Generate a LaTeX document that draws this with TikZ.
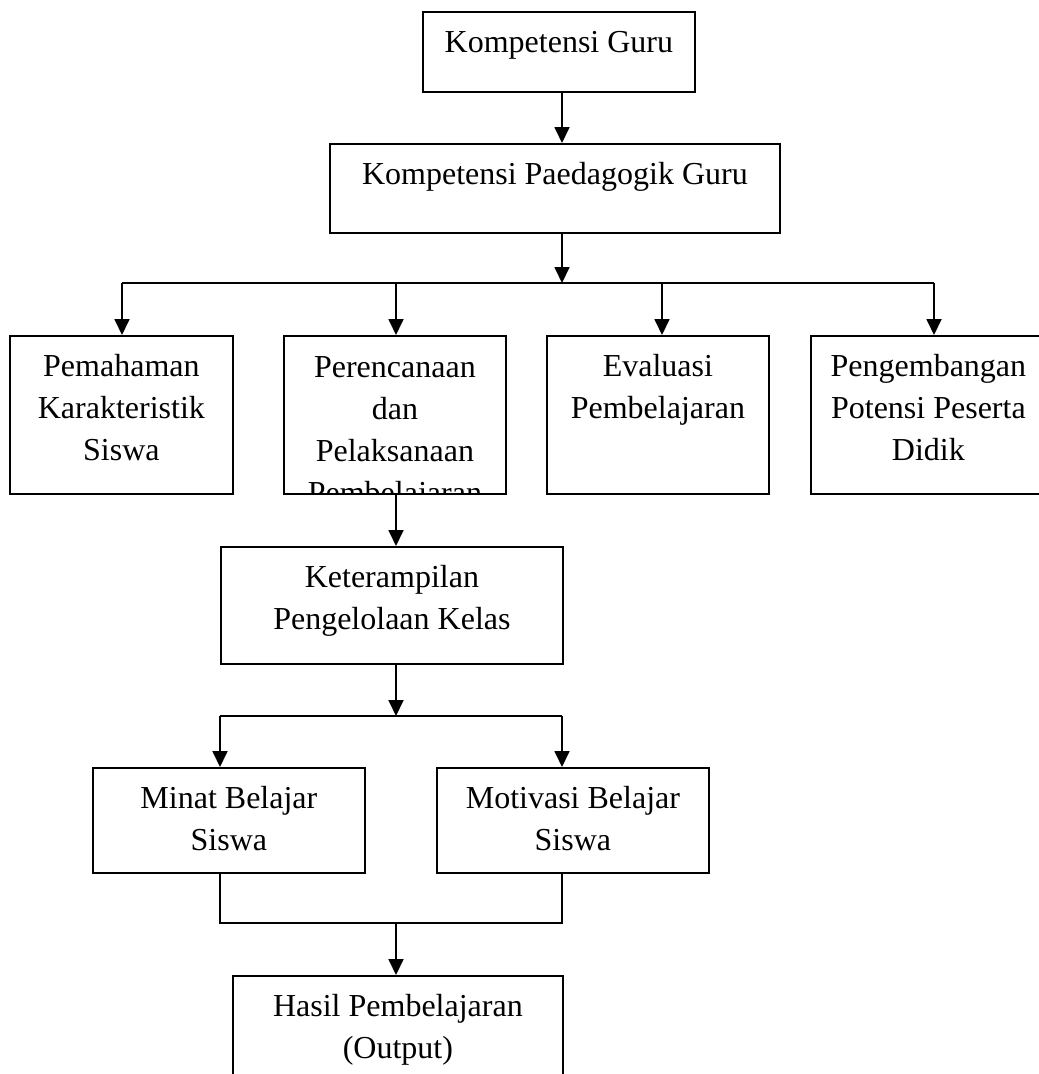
\documentclass[tikz,border=0pt]{standalone}
\usepackage{fontspec}
\setmainfont{Liberation Serif}
\usetikzlibrary{arrows.meta}
\newcommand{\isi}[3]{\parbox[c][#2pt][t]{#1pt}{\centering\rule{0pt}{41pt}#3}}

\begin{document}
\begin{tikzpicture}[x=1pt, y=-1pt, line width=1.8pt,
  kotak/.style={draw, inner sep=0pt, anchor=north west, font=\fontsize{32}{42}\selectfont},
  panah/.style={-{Triangle[length=16pt,width=15pt]}}]
\useasboundingbox (0,0) rectangle (1039,1074);
\node[kotak] (guru) at (422,11) {\isi{272}{80}{Kompetensi Guru}};
\node[kotak] (paed) at (329,143) {\isi{450}{89}{Kompetensi Paedagogik Guru}};
\node[kotak] (paham) at (9,335) {\isi{223}{158}{Pemahaman\\Karakteristik\\Siswa}};
\node[kotak, minimum width=222pt, minimum height=158pt,
  path picture={\node[anchor=north, inner sep=0pt, font=\fontsize{32}{42}\selectfont] at (path picture bounding box.north)
    {\isi{222}{200}{Perencanaan\\dan\\Pelaksanaan\\Pembelajaran}};}] (rencana) at (283,335) {};
\node[kotak] (evaluasi) at (546,335) {\isi{222}{158}{Evaluasi\\Pembelajaran}};
\node[kotak] (potensi) at (810,335) {\isi{235}{158}{Pengembangan\\Potensi Peserta\\Didik}};
\node[kotak] (kelola) at (220,546) {\isi{342}{117}{Keterampilan\\Pengelolaan Kelas}};
\node[kotak] (minat) at (92,767) {\isi{272}{105}{Minat Belajar\\Siswa}};
\node[kotak] (motivasi) at (436,767) {\isi{272}{105}{Motivasi Belajar\\Siswa}};
\node[kotak] (hasil) at (232,975) {\isi{330}{110}{Hasil Pembelajaran\\(Output)}};

% cabang atas
\coordinate (cab1) at (562,283);
\draw[panah] (guru.south -| cab1) -- (paed.north -| cab1);
\draw[panah] (paed.south -| cab1) -- (cab1);
\foreach \k/\x in {paham/122, rencana/396, evaluasi/662, potensi/934}{
  \coordinate (d\k) at (\x,283);
  \draw[panah] (d\k) -- (d\k |- \k.north);
}
\draw (dpaham) -- (dpotensi);

% cabang bawah
\draw[panah] (drencana |- rencana.south) -- (drencana |- kelola.north);
\coordinate (cab2) at (396,716);
\draw[panah] (kelola.south -| cab2) -- (cab2);
\coordinate (ki) at (220,716);
\coordinate (ka) at (562,716);
\draw (ki) -- (ka);
\draw[panah] (ki) -- (ki |- minat.north);
\draw[panah] (ka) -- (ka |- motivasi.north);
\coordinate (cab3) at (396,923);
\draw (ki |- minat.south) |- (cab3) -| (ka |- motivasi.south);
\draw[panah] (cab3) -- (cab3 |- hasil.north);
\end{tikzpicture}
\end{document}
